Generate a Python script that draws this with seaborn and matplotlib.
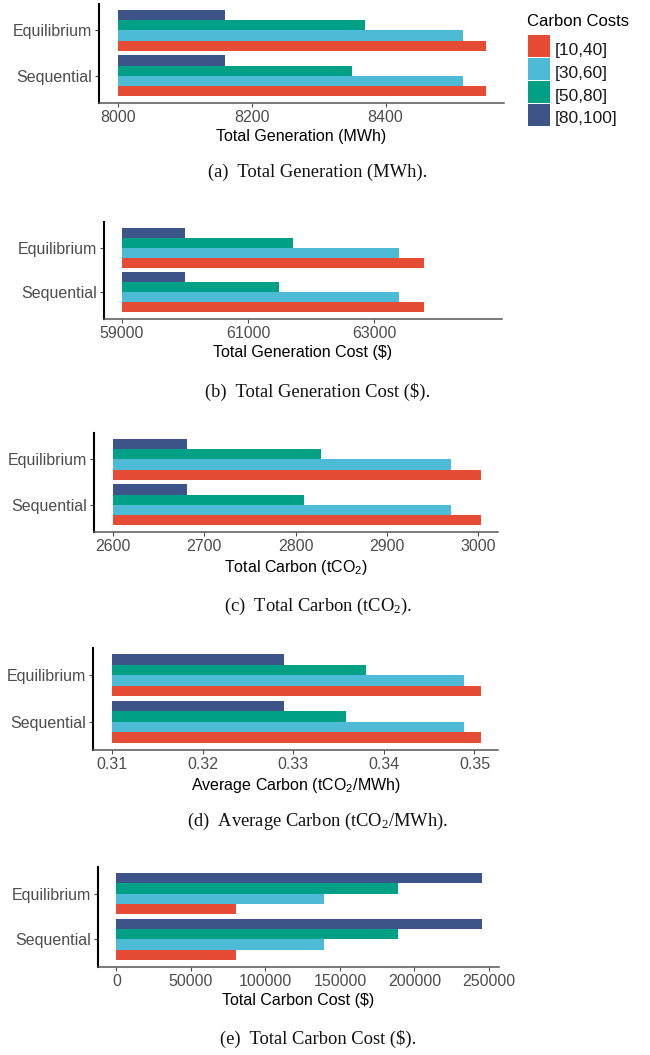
import numpy as np
import pandas as pd
import matplotlib
matplotlib.use("Agg")
import matplotlib.pyplot as plt
from matplotlib.lines import Line2D
import seaborn as sns

# Data
methods = ["Equilibrium", "Sequential"]
carbon_costs = ["[10,40]", "[30,60]", "[50,80]", "[80,100]"]
colors = ["#E64B35", "#4DBBD5", "#00A087", "#3C5488"]

# values per carbon cost bucket, [Equilibrium, Sequential]
total_generation = {"[10,40]": [8550, 8550], "[30,60]": [8516, 8516],
                    "[50,80]": [8369, 8350], "[80,100]": [8160, 8160]}
total_gen_cost = {"[10,40]": [63790, 63790], "[30,60]": [63390, 63390],
                  "[50,80]": [61710, 61490], "[80,100]": [60000, 60000]}
total_carbon = {"[10,40]": [3003, 3003], "[30,60]": [2970, 2970],
                "[50,80]": [2828, 2809], "[80,100]": [2681, 2681]}
average_carbon = {"[10,40]": [0.3507, 0.3507], "[30,60]": [0.3488, 0.3488],
                  "[50,80]": [0.3380, 0.3358], "[80,100]": [0.3290, 0.3290]}
total_carbon_cost = {"[10,40]": [80400, 80400], "[30,60]": [139400, 139400],
                     "[50,80]": [189000, 189000], "[80,100]": [245300, 245300]}

sns.set_theme(style="white")
plt.rcParams["font.family"] = ["Liberation Sans", "DejaVu Sans"]
plt.rcParams["mathtext.default"] = "regular"

fig = plt.figure(figsize=(6.5, 10.55), dpi=100)
W, H = 650.0, 1055.0

# (values, base, xlim, ticks, tick labels, x title, caption, box px [left, top, right, bottom], caption y)
panels = [
    (total_generation, 8000, (7972, 8577), [8000, 8200, 8400], ["8000", "8200", "8400"],
     "Total Generation (MWh)", "(a)  Total Generation (MWh).", (99, 4, 504, 103), 172),
    (total_gen_cost, 59000, (58714, 65021), [59000, 61000, 63000], ["59000", "61000", "63000"],
     "Total Generation Cost ($)", "(b)  Total Generation Cost ($).", (104, 222, 502, 319), 392),
    (total_carbon, 2600, (2579, 3022), [2600, 2700, 2800, 2900, 3000],
     ["2600", "2700", "2800", "2900", "3000"],
     "Total Carbon (tCO$_2$)", "(c)  Total Carbon (tCO$_2$).", (94, 433, 498, 532), 606),
    (average_carbon, 0.31, (0.3079, 0.3526), [0.31, 0.32, 0.33, 0.34, 0.35],
     ["0.31", "0.32", "0.33", "0.34", "0.35"],
     "Average Carbon (tCO$_2$/MWh)", "(d)  Average Carbon (tCO$_2$/MWh).", (93, 648, 498, 750), 821),
    (total_carbon_cost, 0, (-12290, 256700), [0, 50000, 100000, 150000, 200000, 250000],
     ["0", "50000", "100000", "150000", "200000", "250000"],
     "Total Carbon Cost ($)", "(e)  Total Carbon Cost ($).", (98, 867, 499, 967), 1039),
]

# bars drawn top-to-bottom: [80,100] first, [10,40] last
hue_order = carbon_costs[::-1]
palette = dict(zip(carbon_costs, colors))

for vals, base, xlim, ticks, tlabels, xtitle, caption, box, cap_y in panels:
    l, t, r, b = box
    ax = fig.add_axes([l / W, 1 - b / H, (r - l) / W, (b - t) / H])

    rows = []
    for c in carbon_costs:
        for m, v in zip(methods, vals[c]):
            rows.append({"Method": m, "Carbon": c, "Value": v})
    df = pd.DataFrame(rows)

    sns.barplot(data=df, y="Method", x="Value", hue="Carbon", order=methods,
                hue_order=hue_order, palette=palette, orient="h", width=0.9,
                saturation=1, errorbar=None, legend=False, ax=ax)

    # bars start at the axis base value, not at zero
    for p in ax.patches:
        w = p.get_width()
        p.set_x(base)
        p.set_width(w - base)
        p.set_linewidth(0)

    ax.set_xlim(*xlim)
    ax.set_ylim(1.6, -0.58)
    ax.set_xticks(ticks)
    ax.set_xticklabels(tlabels)
    ax.set_xlabel(xtitle, fontsize=11.5, color="black", labelpad=3)
    ax.set_ylabel("")
    ax.tick_params(axis="both", labelsize=11.5, labelcolor="#4D4D4D", colors="#4D4D4D",
                   length=3, width=0.8, pad=2, bottom=True, left=True)
    for s in ["top", "right"]:
        ax.spines[s].set_visible(False)
    ax.spines["left"].set_color("black")
    ax.spines["left"].set_linewidth(1.5)
    ax.spines["bottom"].set_color("#555555")
    ax.spines["bottom"].set_linewidth(1.1)
    ax.set_facecolor("white")

    fig.text(318 / W, 1 - cap_y / H, caption, ha="center", va="center",
             fontsize=13.3, family=["Liberation Serif", "DejaVu Serif"], color="#111111")

# legend: title placed by hand, square keys below it
fig.text(527 / W, 1 - 21 / H, "Carbon Costs", ha="left", va="center",
         fontsize=12, color="black")
handles = [Line2D([], [], marker="s", markersize=15.6, color=c, linestyle="none",
                  markeredgewidth=0) for c in colors]
leg = fig.legend(handles, carbon_costs, loc="upper left",
                 bbox_to_anchor=(528 / W, 1 - 38 / H),
                 frameon=False, fontsize=12.5,
                 handlelength=1.27, handleheight=1.55, labelspacing=0.07,
                 handletextpad=0.25, borderaxespad=0, borderpad=0)
for txt in leg.get_texts():
    txt.set_color("#1A1A1A")

fig.savefig("out.png", dpi=100, facecolor="white")
